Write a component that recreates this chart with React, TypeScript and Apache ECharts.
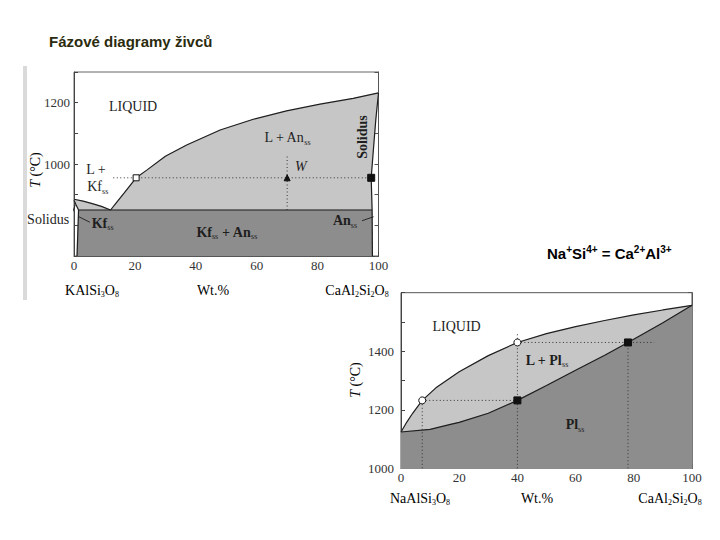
import React, { useEffect, useRef } from "react";
import * as echarts from "echarts";

const SERIF = '"Liberation Serif", "DejaVu Serif", serif';
const SANS = '"Liberation Sans", Arial, sans-serif';
const INK = "#1e1e1e";
const LIGHT = "#c6c6c6";
const DARK = "#8d8d8d";

// ---------- Diagram 1: KAlSi3O8 – CaAl2Si2O8 ----------
const kfLiquidus1 = [[0, 885], [3, 879], [6, 871], [9, 862], [12, 850]];
const anLiquidus1 = [[12, 850], [14, 875], [16.5, 906], [20.4, 955], [23.9, 980], [30, 1025], [37, 1062], [48, 1111], [58.9, 1146], [69.8, 1173], [80.8, 1195], [91.7, 1214], [100, 1232]];
const anSolidus1 = [[97.9, 850], [97.6, 955], [98.4, 1056], [99.1, 1143], [100, 1232]];
const kfSolidus1 = [[0, 882], [0.7, 866], [1.5, 850]];
const eutectic1 = [[1.5, 850], [97.9, 850]];
const kfSolvus1 = [[1.5, 850], [1.0, 700]];
const anSolvus1 = [[97.9, 850], [98.0, 700]];
const tieLine1 = [[12.9, 955], [97.6, 955]];
const isopleth1 = [[70, 850], [70, 1025]];
const liquidPoint1 = [[20.4, 955]];
const solidPoint1 = [[97.6, 955]];
const bulkPoint1 = [[70, 955]];
const leaders1 = [
  [[-0.8, 836], [-0.2, 850], [0.4, 866]],
  [[1.6, 828], [5.2, 810]],
  [[94.6, 815], [98.4, 828]],
];

// ---------- Diagram 2: NaAlSi3O8 – CaAl2Si2O8 ----------
const liquidus2 = [[0, 1124], [2, 1158], [4, 1188], [7.3, 1232], [12, 1275], [20, 1330], [30, 1385], [40, 1430], [50, 1460], [60, 1484], [70, 1505], [80, 1524], [90, 1541], [100, 1557]];
const solidus2 = [[0, 1124], [10, 1133], [17, 1150], [20, 1157], [30, 1188], [40, 1232], [50, 1283], [60, 1335], [70, 1386], [78, 1430], [90, 1497], [100, 1557]];
const dotted2 = [
  [[7.3, 1232], [40, 1232]],
  [[7.3, 1000], [7.3, 1232]],
  [[40, 1000], [40, 1462]],
  [[40, 1430], [87, 1430]],
  [[78, 1000], [78, 1430]],
];
const liquidPoints2 = [[7.3, 1232], [40, 1430]];
const solidPoints2 = [[40, 1232], [78, 1430]];

// Axis tick labels
const xTicks = [0, 20, 40, 60, 80, 100];
const yTicks1 = [1000, 1200];
const yTicks2 = [1000, 1200, 1400];

const noBorder = { textBorderWidth: 0, textBorderColor: "transparent", textShadowBlur: 0 };
const rich = {
  m: { fontFamily: SERIF, fontSize: 14, color: INK, lineHeight: 17, ...noBorder },
  b: { fontFamily: SERIF, fontSize: 14, fontWeight: "bold", color: INK, lineHeight: 17, ...noBorder },
  s: { fontFamily: SERIF, fontSize: 8, color: INK, lineHeight: 8, verticalAlign: "bottom", ...noBorder },
  i: { fontFamily: SERIF, fontSize: 14, fontStyle: "italic", color: INK, lineHeight: 17, ...noBorder },
};

// In-plot annotations (data coordinates)
const notes1 = [
  { at: [19.4, 1186], text: "{m|LIQUID}" },
  { at: [70, 1085], text: "{m|L + An}{s|ss}" },
  { at: [94.9, 1088], text: "{b|Solidus}", rotate: 90 },
  { at: [74.5, 992], text: "{i|W}" },
  { at: [7.2, 981], text: "{m|L +}" },
  { at: [7.8, 926], text: "{m|Kf}{s|ss}" },
  { at: [9.4, 806], text: "{b|Kf}{s|ss}" },
  { at: [50.2, 778], text: "{b|Kf}{s|ss}{b| + An}{s|ss}" },
  { at: [89, 815], text: "{b|An}{s|ss}" },
  { at: [-8.5, 820], text: "{m|Solidus}" },
];
const notes2 = [
  { at: [19.1, 1484], text: "{m|LIQUID}" },
  { at: [50.1, 1370], text: "{b|L + Pl}{s|ss}" },
  { at: [59.8, 1148], text: "{b|Pl}{s|ss}" },
];

const DOTTED = { type: [1, 2.5], width: 1, color: "#333" };

function polygon(g: number, pts: number[][], fill: string, z: number) {
  return {
    type: "custom",
    xAxisIndex: g,
    yAxisIndex: g * 2,
    z,
    silent: true,
    data: [0],
    renderItem: (_p: any, api: any) => ({
      type: "polygon",
      shape: { points: pts.map((p) => api.coord(p)) },
      style: { fill, stroke: fill, lineWidth: 0.5 },
    }),
  };
}

function line(g: number, pts: number[][], extra: any = {}) {
  return {
    type: "line",
    xAxisIndex: g,
    yAxisIndex: g * 2,
    data: pts,
    symbol: "none",
    silent: true,
    clip: false,
    z: 5,
    lineStyle: { color: INK, width: 1.2, ...extra },
  };
}

function dots(g: number, data: number[][], symbol: string, size: number, fill: string) {
  return {
    type: "scatter",
    xAxisIndex: g,
    yAxisIndex: g * 2,
    data,
    symbol,
    symbolSize: size,
    silent: true,
    z: 10,
    itemStyle: { color: fill, borderColor: "#111", borderWidth: 1, opacity: 1 },
  };
}

function notes(g: number, list: any[]) {
  return {
    type: "scatter",
    xAxisIndex: g,
    yAxisIndex: g * 2,
    symbolSize: 0,
    silent: true,
    clip: false,
    z: 12,
    itemStyle: { color: INK, opacity: 1 },
    data: list.map((n) => ({
      value: n.at,
      label: {
        show: true,
        position: "inside",
        formatter: n.text,
        rich,
        color: INK,
        opacity: 1,
        ...noBorder,
        rotate: n.rotate || 0,
        align: "center",
        verticalAlign: "middle",
      },
    })),
  };
}

function xAxis(g: number) {
  return {
    type: "value",
    gridIndex: g,
    min: 0,
    max: 100,
    interval: 10,
    axisLine: { show: true, lineStyle: { color: "#444", width: 1 } },
    axisTick: { show: true, inside: true, length: 4, lineStyle: { color: "#444" } },
    axisLabel: {
      fontFamily: SERIF,
      fontSize: 13,
      color: "#333",
      margin: 3,
      hideOverlap: false,
      showMinLabel: true,
      showMaxLabel: true,
      formatter: (v: number) => (xTicks.includes(v) ? String(v) : ""),
    },
    splitLine: { show: false },
  };
}

function yAxes(g: number, min: number, max: number, labels: number[], margin: number) {
  return [
    {
      type: "value",
      gridIndex: g,
      min,
      max,
      interval: 100,
      position: "left",
      axisLine: { show: true, lineStyle: { color: "#444", width: 1 } },
      axisTick: { show: true, inside: true, length: 4, lineStyle: { color: "#444" } },
      axisLabel: {
        fontFamily: SERIF,
        fontSize: 13,
        color: "#333",
        margin,
        showMinLabel: true,
        showMaxLabel: true,
        formatter: (v: number) => (labels.includes(v) ? String(v) : ""),
      },
      splitLine: { show: false },
    },
    {
      type: "value",
      gridIndex: g,
      min,
      max,
      interval: 100,
      position: "right",
      axisLine: { show: true, lineStyle: { color: "#555", width: 1 } },
      axisTick: { show: true, inside: true, length: 4, lineStyle: { color: "#555" } },
      axisLabel: { show: false },
      splitLine: { show: false },
    },
  ];
}

function caption(x: number, y: number, text: string, rotation = 0) {
  return {
    type: "text",
    x,
    y,
    rotation,
    z: 20,
    style: { text, rich, align: "center", verticalAlign: "middle" },
  };
}

export default function App() {
  const ref = useRef<HTMLDivElement>(null);

  useEffect(() => {
    if (!ref.current) return;
    const chart = echarts.init(ref.current, undefined, { renderer: "svg" });

    const light1 = [
      ...kfLiquidus1,
      ...anLiquidus1.slice(1),
      ...anSolidus1.slice(0, -1).reverse(),
      ...eutectic1.slice().reverse().slice(1),
      ...kfSolidus1.slice(0, -1).reverse(),
    ];
    const dark1 = [kfSolvus1[1], kfSolvus1[0], anSolvus1[0], anSolvus1[1]];
    const light2 = [...liquidus2, [100, 1000], [0, 1000]];
    const dark2 = [...solidus2, [100, 1000], [0, 1000]];

    chart.setOption({
      animation: false,
      backgroundColor: "#ffffff",
      grid: [
        { left: 74, top: 72, width: 304.5, height: 184, show: true, borderColor: "#666", borderWidth: 1, backgroundColor: "transparent" },
        { left: 401, top: 292.7, width: 291, height: 175.6, show: true, borderColor: "#555", borderWidth: 1, backgroundColor: "transparent" },
      ],
      xAxis: [xAxis(0), xAxis(1)],
      yAxis: [...yAxes(0, 700, 1300, yTicks1, 4), ...yAxes(1, 1000, 1600, yTicks2, 7)],
      series: [
        polygon(0, light1, LIGHT, 1),
        polygon(0, dark1, DARK, 2),
        line(0, kfLiquidus1),
        line(0, anLiquidus1),
        line(0, anSolidus1),
        line(0, kfSolidus1),
        line(0, eutectic1),
        line(0, kfSolvus1),
        line(0, anSolvus1),
        line(0, tieLine1, DOTTED),
        line(0, isopleth1, DOTTED),
        ...leaders1.map((l) => line(0, l, { width: 0.9 })),
        dots(0, liquidPoint1, "rect", 6, "#ffffff"),
        dots(0, solidPoint1, "rect", 7, "#111111"),
        dots(0, bulkPoint1, "triangle", 6, "#111111"),
        notes(0, notes1),

        polygon(1, light2, LIGHT, 1),
        polygon(1, dark2, DARK, 2),
        line(1, liquidus2),
        line(1, solidus2),
        ...dotted2.map((d) => line(1, d, DOTTED)),
        dots(1, liquidPoints2, "circle", 7, "#ffffff"),
        dots(1, solidPoints2, "rect", 7, "#111111"),
        notes(1, notes2),
      ],
      graphic: [
        { type: "rect", shape: { x: 23, y: 66, width: 4, height: 234 }, style: { fill: "#dadada" }, z: 0 },
        {
          type: "text",
          x: 49,
          y: 41,
          style: { text: "Fázové diagramy živců", font: `bold 15px ${SANS}`, fill: "#2b2b0e", align: "left", verticalAlign: "middle" },
        },
        {
          type: "text",
          x: 547,
          y: 253,
          style: {
            text: "{n|Na}{p|+}{n|Si}{p|4+}{n| = Ca}{p|2+}{n|Al}{p|3+}",
            align: "left",
            verticalAlign: "middle",
            rich: {
              n: { fontFamily: SANS, fontSize: 15, fontWeight: "bold", color: "#2b2b0e", lineHeight: 17 },
              p: { fontFamily: SANS, fontSize: 10, fontWeight: "bold", color: "#2b2b0e", lineHeight: 11, verticalAlign: "top" },
            },
          },
        },
        caption(35, 170, "{i|T}{m| (°C)}", Math.PI / 2),
        caption(92, 290, "{m|KAlSi}{s|3}{m|O}{s|8}"),
        caption(213, 290, "{m|Wt.%}"),
        caption(357, 290, "{m|CaAl}{s|2}{m|Si}{s|2}{m|O}{s|8}"),
        caption(355, 380, "{i|T}{m| (°C)}", Math.PI / 2),
        caption(420, 498, "{m|NaAlSi}{s|3}{m|O}{s|8}"),
        caption(537, 498, "{m|Wt.%}"),
        caption(670, 498, "{m|CaAl}{s|2}{m|Si}{s|2}{m|O}{s|8}"),
      ],
    });

    return () => chart.dispose();
  }, []);

  return <div ref={ref} style={{ position: "fixed", left: 0, top: 0, width: 720, height: 540 }} />;
}
